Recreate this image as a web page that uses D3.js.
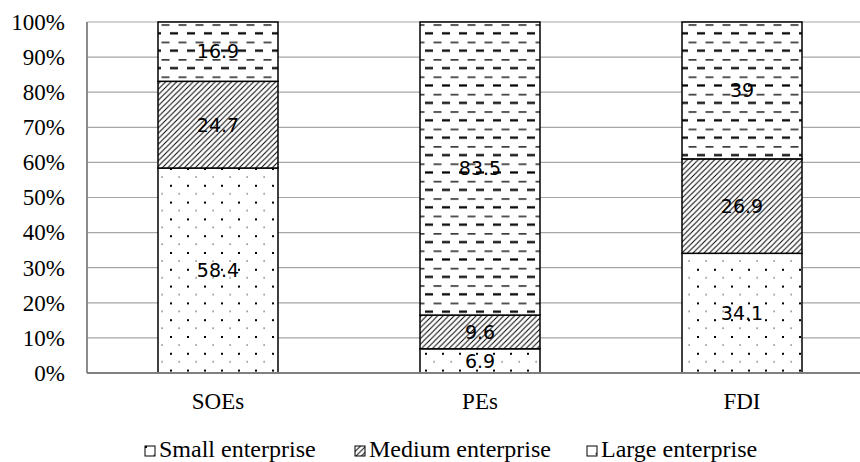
<!DOCTYPE html>
<html>
<head>
<meta charset="utf-8">
<script src="https://cdn.jsdelivr.net/npm/d3@7/dist/d3.min.js"></script>
<style>
  html, body { margin: 0; padding: 0; background: #fff; }
  svg { display: block; }
</style>
</head>
<body>
<svg id="chart" width="860" height="462"></svg>
<script>
// Ownership types along the x axis
const categories = ["SOEs", "PEs", "FDI"];
// Enterprise size groups, stacked bottom to top
const seriesNames = ["Small enterprise", "Medium enterprise", "Large enterprise"];
// Share (%) of each size group per ownership type
const smallValues = [58.4, 6.9, 34.1];
const mediumValues = [24.7, 9.6, 26.9];
const largeValues = [16.9, 83.5, 39];
// Y-axis ticks
const yTicks = [0, 10, 20, 30, 40, 50, 60, 70, 80, 90, 100];

const rows = categories.map((c, i) => ({
  category: c,
  "Small enterprise": smallValues[i],
  "Medium enterprise": mediumValues[i],
  "Large enterprise": largeValues[i]
}));

const svg = d3.select("#chart");
const W = 860, H = 462;
const plotLeft = 87, plotTop = 22, plotBottom = 373;
const serif = "'Liberation Serif', 'Times New Roman', serif";

// Fill patterns for the three size groups
const defs = svg.append("defs");

// small: staggered dot grid
const pDots = defs.append("pattern").attr("id", "pat-small")
  .attr("patternUnits", "userSpaceOnUse").attr("width", 17).attr("height", 16.8);
pDots.append("rect").attr("width", 17).attr("height", 16.8).attr("fill", "#fff");
pDots.append("rect").attr("x", 0).attr("y", 0).attr("width", 2).attr("height", 2).attr("fill", "#000");
pDots.append("rect").attr("x", 8.5).attr("y", 8.4).attr("width", 1.2).attr("height", 1.2).attr("fill", "#333");

// medium: wide upward diagonal hatch
const pHatch = defs.append("pattern").attr("id", "pat-medium")
  .attr("patternUnits", "userSpaceOnUse").attr("width", 5.5).attr("height", 5.5);
pHatch.append("rect").attr("width", 5.5).attr("height", 5.5).attr("fill", "#fff");
pHatch.append("path").attr("d", "M-1,6.5 L6.5,-1 M-1,1 L1,-1 M4.5,6.5 L6.5,4.5")
  .attr("stroke", "#000").attr("stroke-width", 1.0);

// large: alternating rows of thin and bold dashes
const pDash = defs.append("pattern").attr("id", "pat-large")
  .attr("patternUnits", "userSpaceOnUse").attr("width", 17).attr("height", 17.4);
pDash.append("rect").attr("width", 17).attr("height", 17.4).attr("fill", "#fff");
pDash.append("rect").attr("x", 8.5).attr("y", 7).attr("width", 8).attr("height", 1.3).attr("fill", "#000");
pDash.append("rect").attr("x", 0).attr("y", 14.8).attr("width", 8).attr("height", 2.2).attr("fill", "#000");

const fills = {
  "Small enterprise": "url(#pat-small)",
  "Medium enterprise": "url(#pat-medium)",
  "Large enterprise": "url(#pat-large)"
};

// Scales
const x = d3.scaleBand().domain(categories).range([plotLeft, 873])
  .paddingInner(0.542).paddingOuter(0.271);
const y = d3.scaleLinear().domain([0, 100]).range([plotBottom, plotTop]);

// Horizontal gridlines
svg.append("g").selectAll("line").data(yTicks.filter(t => t > 0)).join("line")
  .attr("x1", plotLeft).attr("x2", W)
  .attr("y1", d => y(d)).attr("y2", d => y(d))
  .attr("stroke", "#a6a6a6").attr("stroke-width", 1.2);

// Y-axis tick labels
const yAxis = d3.axisLeft(y).tickValues(yTicks).tickSize(0).tickPadding(22)
  .tickFormat(d => d + "%");
const gy = svg.append("g").attr("transform", `translate(${plotLeft},0)`).call(yAxis);
gy.select(".domain").remove();
gy.selectAll("text")
  .attr("font-family", serif).attr("font-size", 23).attr("fill", "#000");

// Stacked bars
const stack = d3.stack().keys(seriesNames);
const layers = stack(rows);

const gBars = svg.append("g");
layers.forEach(layer => {
  gBars.append("g").selectAll("rect").data(layer).join("rect")
    .attr("x", d => x(d.data.category))
    .attr("width", x.bandwidth())
    .attr("y", d => y(d[1]))
    .attr("height", d => y(d[0]) - y(d[1]))
    .attr("fill", fills[layer.key])
    .attr("stroke", "#000").attr("stroke-width", 1.5);
});

// Segment value labels
layers.forEach(layer => {
  gBars.append("g").selectAll("text").data(layer).join("text")
    .attr("x", d => x(d.data.category) + x.bandwidth() / 2)
    .attr("y", d => (y(d[0]) + y(d[1])) / 2)
    .attr("text-anchor", "middle").attr("dy", "0.36em")
    .attr("font-family", "'DejaVu Sans', Verdana, sans-serif")
    .attr("font-size", 19).attr("fill", "#000")
    .text(d => d.data[layer.key]);
});

// Axis lines
svg.append("line").attr("x1", plotLeft).attr("x2", plotLeft).attr("y1", plotTop).attr("y2", plotBottom)
  .attr("stroke", "#808080").attr("stroke-width", 1.8);
svg.append("line").attr("x1", plotLeft).attr("x2", W).attr("y1", plotBottom).attr("y2", plotBottom)
  .attr("stroke", "#808080").attr("stroke-width", 2.2);

// X-axis category labels
const xAxis = d3.axisBottom(x).tickSize(0).tickPadding(20);
const gx = svg.append("g").attr("transform", `translate(0,${plotBottom})`).call(xAxis);
gx.select(".domain").remove();
gx.selectAll("text")
  .attr("font-family", serif).attr("font-size", 23).attr("fill", "#000");

// Legend
const legendX = [145, 355, 587];
const legend = svg.append("g");
seriesNames.forEach((name, i) => {
  const g = legend.append("g").attr("transform", `translate(${legendX[i]},446)`);
  g.append("rect").attr("width", 10).attr("height", 10)
    .attr("fill", fills[name]).attr("stroke", "#000").attr("stroke-width", 1);
  g.append("text").attr("x", 14).attr("y", 11)
    .attr("font-family", serif).attr("font-size", 24).attr("fill", "#000")
    .text(name);
});
</script>
</body>
</html>
